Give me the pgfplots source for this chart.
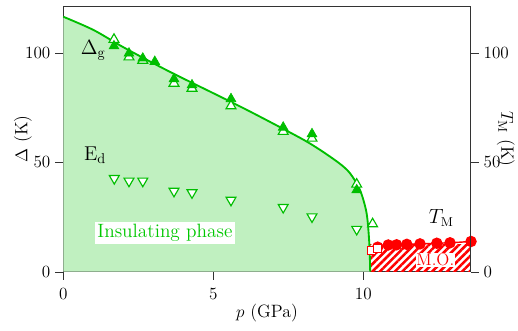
\documentclass[border=0pt]{standalone}
\usepackage{pgfplots}
\pgfplotsset{compat=1.18}
\usetikzlibrary{patterns.meta}
\definecolor{lgreen}{RGB}{0,190,0}
\definecolor{fgreen}{RGB}{192,240,192}
\definecolor{tgreen}{RGB}{0,200,0}
\begin{document}
\begin{tikzpicture}[font=\fontsize{12.5}{15}\selectfont]
\path[use as bounding box] (-44.3pt,-40.8pt) rectangle (318.3pt,190.2pt);
\begin{axis}[name=ax, scale only axis, width=285.2pt, height=186pt,
  xmin=0, xmax=13.58, ymin=0, ymax=121.3,
  xtick={0,5,10}, ytick={0,50,100},
  xtick pos=left, ytick pos=left, tick align=outside,
  major tick length=5.5pt,
  axis line style={black!80}, tick style={black!80},
  xticklabel style={yshift=-3pt},
  xlabel={$p$ (GPa)}, ylabel={$\Delta$ (K)},
  xlabel style={at={(axis description cs:0.5,-0.155)}, anchor=center},
  ylabel style={at={(axis description cs:-0.099,0.5)}, anchor=center},
  clip=false]
% insulating region fill
\addplot[draw=none, fill=fgreen, smooth] coordinates {
 (0,116.4) (1,110.4) (2,102.5) (3.22,93.6) (4,88.2) (5,81.5) (6,74.7) (7,67.6) (8,60.3) (8.56,55.6) (9.2,49.5) (9.56,44.9) (9.89,37.3) (10.11,26.7) (10.2,13) (10.23,0)} \closedcycle;
% M.O. hatched region
\addplot[draw=none, pattern={Lines[angle=45,distance=3.7pt,line width=1.8pt]}, pattern color=red] coordinates {(10.22,12.5) (13.58,12.5)} \closedcycle;
% boundary curve
\addplot[lgreen, line width=1.3pt, smooth] coordinates {
 (0,116.4) (1,110.4) (2,102.5) (3.22,93.6) (4,88.2) (5,81.5) (6,74.7) (7,67.6) (8,60.3) (8.56,55.6) (9.2,49.5) (9.56,44.9) (9.89,37.3) (10.11,26.7) (10.2,13) (10.23,0)};
% Delta_g open
\addplot[only marks, mark=triangle*, mark size=4pt, lgreen, mark options={fill=white, line width=0.8pt}] coordinates {
 (1.69,106) (2.19,98) (2.65,96.5) (3.69,86) (4.29,83.7) (5.59,75.7) (7.33,64) (8.29,60.9) (9.78,39.9) (10.31,21.8)};
% Delta_g filled
\addplot[only marks, mark=triangle*, mark size=4pt, lgreen, mark options={fill=lgreen}] coordinates {
 (1.69,103) (2.19,99.7) (2.65,97.4) (3.05,95.9) (3.69,88) (4.29,85.2) (5.59,78.9) (7.33,65.9) (8.29,62.9) (9.78,37.3)};
% E_d open down-triangles
\addplot[only marks, mark=triangle*, mark size=4pt, lgreen, mark options={fill=white, line width=0.8pt, rotate=180}] coordinates {
 (1.7,42.6) (2.19,41.4) (2.65,41.4) (3.69,36.8) (4.29,36.1) (5.59,32.7) (7.33,29.4) (8.29,25.1) (9.78,19.4)};
% T_M line and circles
\addplot[red, line width=1pt, mark=*, mark size=3.5pt, mark options={fill=red}] coordinates {
 (10.48,11.2) (10.83,12.2) (11.11,12.3) (11.45,12.5) (11.89,12.7) (12.45,13.0) (12.89,13.2) (13.59,13.8)};
% open squares
\addplot[only marks, red, mark=square*, mark size=2.8pt, mark options={fill=white, line width=0.8pt}] coordinates {
 (10.28,9.8) (10.48,10.5)};
\node[font=\fontsize{14}{16}\selectfont] at (axis cs:1.0,101) {$\Delta_{\mathrm g}$};
\node[font=\fontsize{14}{16}\selectfont] at (axis cs:1.06,53) {E$_{\mathrm d}$};
\node[fill=white, text=tgreen, inner sep=1.5pt, font=\fontsize{13.5}{16}\selectfont] at (axis cs:3.39,17.6) {Insulating phase};
\node[text=red, fill=white, inner sep=0.3pt, font=\fontsize{12}{14}\selectfont] at (axis cs:12.4,5.3) {M.O.};
\node[font=\fontsize{13.5}{16}\selectfont] at (axis cs:12.6,24.5) {$T_{\mathrm M}$};
\end{axis}
\begin{axis}[scale only axis, width=285.2pt, height=186pt,
  xmin=0, xmax=13.58, ymin=0, ymax=121.3,
  axis x line=none, axis y line*=right,
  ytick={0,50,100}, tick align=outside, major tick length=5.5pt,
  axis line style={black!80}, tick style={black!80},
  ylabel={$T_{\mathrm M}$ (K)},
  ylabel style={at={(axis description cs:1.086,0.5)}, anchor=center, rotate=180}]
\end{axis}
\end{tikzpicture}
\end{document}
